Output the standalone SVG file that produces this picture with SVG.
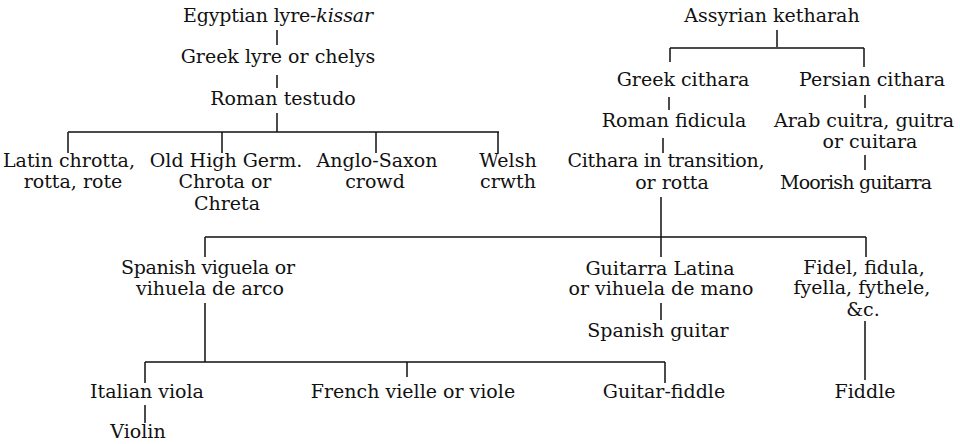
<svg xmlns="http://www.w3.org/2000/svg" width="960" height="444" viewBox="0 0 960 444">
<style>
text{font-family:"DejaVu Serif","Liberation Serif",serif;font-size:19px;fill:#111;text-anchor:middle}
.it{font-style:italic}
#connectors path{fill:none;stroke:#111;stroke-width:1.5}
</style>
<rect width="960" height="444" fill="#fff"/>
<g id="connectors">
<path d="M277 30V45M277 75V88M277 113V132M68 132H499M68 132V153M222 132V153M376 132V153M498 132V153"/>
<path d="M777 30V47M670 48H864M670 48V62M864 48V67M669 97V110M865 95V108M663 138V153M865 155V170"/>
<path d="M661 197V257M205 237H866M205 237V257M866 237V257M661 303V320M865 321V380"/>
<path d="M205 303V362M145 362H665M145 362V383M407 362V377M665 362V383M145 405V423"/>
</g>
<g id="n_egyptian"><text x="278" y="22" textLength="190" lengthAdjust="spacing">Egyptian lyre-<tspan class="it">kissar</tspan></text></g>
<g id="n_greek_lyre"><text x="278" y="63">Greek lyre or chelys</text></g>
<g id="n_roman_testudo"><text x="283" y="105">Roman testudo</text></g>
<g id="n_latin_chrotta"><text x="69" y="167">Latin chrotta,</text><text x="73" y="188">rotta, rote</text></g>
<g id="n_old_high_germ"><text x="226" y="167">Old High Germ.</text><text x="225" y="188">Chrota or</text><text x="227" y="210">Chreta</text></g>
<g id="n_anglo_saxon"><text x="377" y="167">Anglo-Saxon</text><text x="375" y="188">crowd</text></g>
<g id="n_welsh"><text x="508" y="167">Welsh</text><text x="508" y="188">crwth</text></g>
<g id="n_assyrian"><text x="772" y="22">Assyrian ketharah</text></g>
<g id="n_greek_cithara"><text x="683" y="86">Greek cithara</text></g>
<g id="n_persian_cithara"><text x="872" y="86">Persian cithara</text></g>
<g id="n_roman_fidicula"><text x="674" y="127">Roman fidicula</text></g>
<g id="n_arab_cuitra"><text x="864" y="127">Arab cuitra, guitra</text><text x="870" y="148">or cuitara</text></g>
<g id="n_cithara_transition"><text x="666" y="167" textLength="197" lengthAdjust="spacing">Cithara in transition,</text><text x="672" y="189">or rotta</text></g>
<g id="n_moorish"><text x="856" y="189" textLength="152" lengthAdjust="spacing">Moorish guitarra</text></g>
<g id="n_spanish_viguela"><text x="208" y="274" textLength="174" lengthAdjust="spacing">Spanish viguela or</text><text x="210" y="295">vihuela de arco</text></g>
<g id="n_guitarra_latina"><text x="660" y="275">Guitarra Latina</text><text x="661" y="295">or vihuela de mano</text></g>
<g id="n_fidel"><text x="864" y="274">Fidel, fidula,</text><text x="862" y="294">fyella, fythele,</text><text x="863" y="316">&amp;c.</text></g>
<g id="n_spanish_guitar"><text x="658" y="337">Spanish guitar</text></g>
<g id="n_italian_viola"><text x="147" y="398">Italian viola</text></g>
<g id="n_french_vielle"><text x="413" y="398">French vielle or viole</text></g>
<g id="n_guitar_fiddle"><text x="664" y="398">Guitar-fiddle</text></g>
<g id="n_fiddle"><text x="865" y="398">Fiddle</text></g>
<g id="n_violin"><text x="138" y="438">Violin</text></g>
</svg>
